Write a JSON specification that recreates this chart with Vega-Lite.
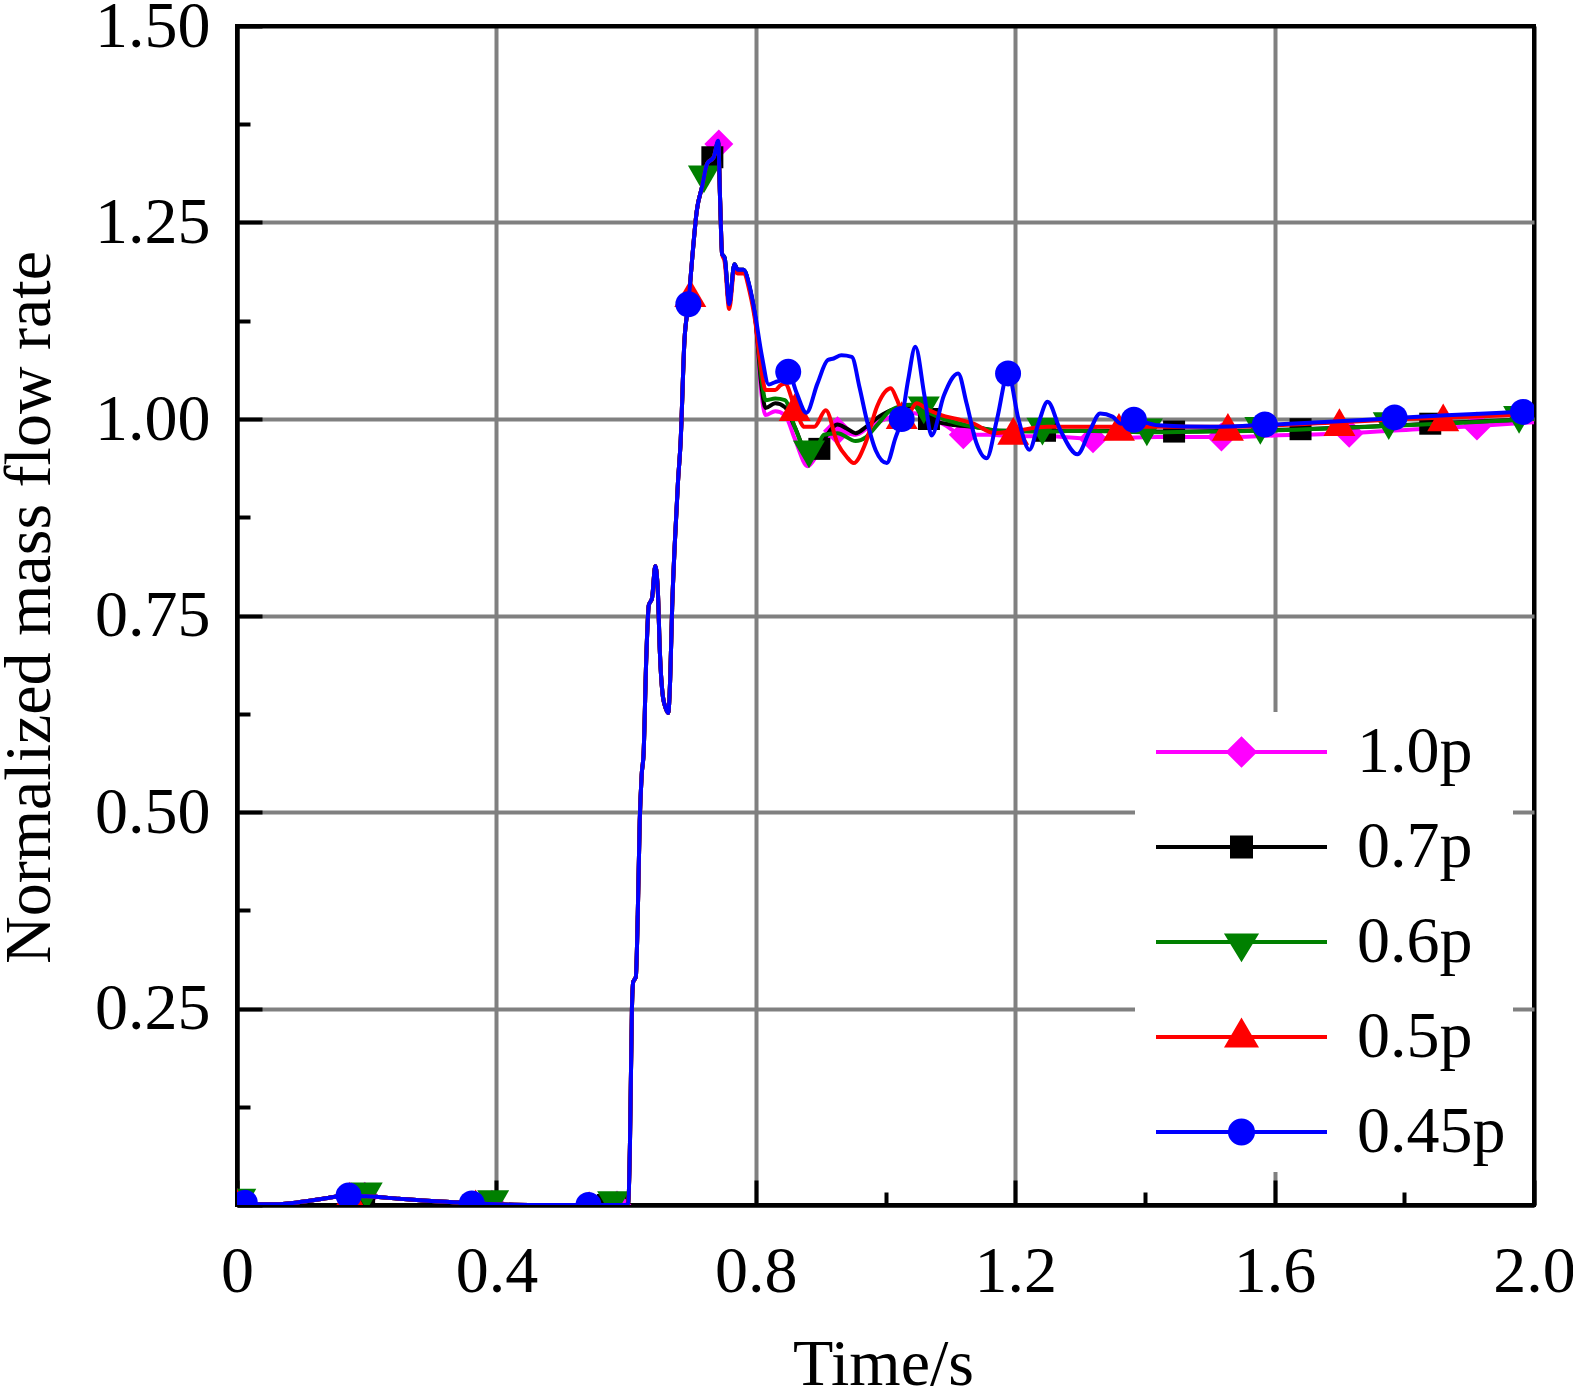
{
  "$schema": "https://vega.github.io/schema/vega-lite/v6.json",
  "width": 1297,
  "height": 1179,
  "autosize": {"type": "none"},
  "padding": {"left": 237, "top": 26, "right": 39, "bottom": 182},
  "background": "white",
  "config": {
    "view": {"stroke": "black", "strokeWidth": 4},
    "axis": {"labelFont": "Liberation Serif", "titleFont": "Liberation Serif", "labelFontSize": 66, "titleFontSize": 66, "titleFontWeight": "normal", "labelColor": "black", "titleColor": "black", "tickColor": "black", "domainColor": "black", "domainWidth": 4, "tickWidth": 4, "gridWidth": 4, "gridOpacity": 1, "labelFlush": false, "labelOverlap": false},
    "legend": {"labelFont": "Liberation Serif", "labelFontSize": 66, "labelColor": "black"}
  },
  "datasets": {
    "L": [
      {"s":"1.0p","t":0,"v":0.003},{"s":"1.0p","t":0.03,"v":0.001},{"s":"1.0p","t":0.06,"v":0.001},{"s":"1.0p","t":0.1,"v":0.004},{"s":"1.0p","t":0.14,"v":0.009},{"s":"1.0p","t":0.17,"v":0.012},{"s":"1.0p","t":0.2,"v":0.011},{"s":"1.0p","t":0.25,"v":0.008},{"s":"1.0p","t":0.3,"v":0.005},{"s":"1.0p","t":0.35,"v":0.003},{"s":"1.0p","t":0.4,"v":0.001},{"s":"1.0p","t":0.45,"v":0},{"s":"1.0p","t":0.6,"v":0},
      {"s":"1.0p","t":0.6034,"v":0.003},{"s":"1.0p","t":0.606,"v":0.08},{"s":"1.0p","t":0.609,"v":0.25},{"s":"1.0p","t":0.611,"v":0.284},{"s":"1.0p","t":0.615,"v":0.29},{"s":"1.0p","t":0.618,"v":0.37},{"s":"1.0p","t":0.621,"v":0.488},{"s":"1.0p","t":0.624,"v":0.547},{"s":"1.0p","t":0.627,"v":0.575},{"s":"1.0p","t":0.631,"v":0.693},{"s":"1.0p","t":0.635,"v":0.763},{"s":"1.0p","t":0.64,"v":0.772},{"s":"1.0p","t":0.645,"v":0.813},{"s":"1.0p","t":0.649,"v":0.78},{"s":"1.0p","t":0.652,"v":0.705},{"s":"1.0p","t":0.656,"v":0.652},{"s":"1.0p","t":0.661,"v":0.632},{"s":"1.0p","t":0.665,"v":0.626},{"s":"1.0p","t":0.668,"v":0.67},{"s":"1.0p","t":0.671,"v":0.76},{"s":"1.0p","t":0.675,"v":0.84},{"s":"1.0p","t":0.68,"v":0.92},{"s":"1.0p","t":0.684,"v":0.97},{"s":"1.0p","t":0.69,"v":1.1},{"s":"1.0p","t":0.696,"v":1.146},{"s":"1.0p","t":0.702,"v":1.205},{"s":"1.0p","t":0.709,"v":1.265},{"s":"1.0p","t":0.717,"v":1.295},{"s":"1.0p","t":0.725,"v":1.325},{"s":"1.0p","t":0.735,"v":1.335},{"s":"1.0p","t":0.742,"v":1.354},{"s":"1.0p","t":0.745,"v":1.278},{"s":"1.0p","t":0.748,"v":1.21},{"s":"1.0p","t":0.752,"v":1.205},{"s":"1.0p","t":0.759,"v":1.146},{"s":"1.0p","t":0.767,"v":1.197},{"s":"1.0p","t":0.772,"v":1.19},{"s":"1.0p","t":0.781,"v":1.19},{"s":"1.0p","t":0.791,"v":1.165},{"s":"1.0p","t":0.799,"v":1.13},
      {"s":"1.0p","t":0.809,"v":1.03},{"s":"1.0p","t":0.815,"v":1.005},{"s":"1.0p","t":0.83,"v":1.01},{"s":"1.0p","t":0.845,"v":1.005},{"s":"1.0p","t":0.86,"v":0.975},{"s":"1.0p","t":0.88,"v":0.94},{"s":"1.0p","t":0.895,"v":0.955},{"s":"1.0p","t":0.91,"v":0.975},{"s":"1.0p","t":0.926,"v":0.985},{"s":"1.0p","t":0.954,"v":0.98},{"s":"1.0p","t":0.975,"v":0.99},{"s":"1.0p","t":1.0,"v":1.0},{"s":"1.0p","t":1.03,"v":1.008},{"s":"1.0p","t":1.06,"v":1.005},{"s":"1.0p","t":1.09,"v":0.993},{"s":"1.0p","t":1.12,"v":0.98},{"s":"1.0p","t":1.16,"v":0.98},{"s":"1.0p","t":1.2,"v":0.978},{"s":"1.0p","t":1.25,"v":0.978},{"s":"1.0p","t":1.32,"v":0.975},{"s":"1.0p","t":1.42,"v":0.977},{"s":"1.0p","t":1.518,"v":0.977},{"s":"1.0p","t":1.6,"v":0.979},{"s":"1.0p","t":1.715,"v":0.982},{"s":"1.0p","t":1.82,"v":0.987},{"s":"1.0p","t":1.912,"v":0.991},{"s":"1.0p","t":2.0,"v":0.996},

      {"s":"0.7p","t":0,"v":0.003},{"s":"0.7p","t":0.03,"v":0.001},{"s":"0.7p","t":0.06,"v":0.001},{"s":"0.7p","t":0.1,"v":0.004},{"s":"0.7p","t":0.14,"v":0.009},{"s":"0.7p","t":0.17,"v":0.012},{"s":"0.7p","t":0.2,"v":0.011},{"s":"0.7p","t":0.25,"v":0.008},{"s":"0.7p","t":0.3,"v":0.005},{"s":"0.7p","t":0.35,"v":0.003},{"s":"0.7p","t":0.4,"v":0.001},{"s":"0.7p","t":0.45,"v":0},{"s":"0.7p","t":0.6,"v":0},
      {"s":"0.7p","t":0.6034,"v":0.003},{"s":"0.7p","t":0.606,"v":0.08},{"s":"0.7p","t":0.609,"v":0.25},{"s":"0.7p","t":0.611,"v":0.284},{"s":"0.7p","t":0.615,"v":0.29},{"s":"0.7p","t":0.618,"v":0.37},{"s":"0.7p","t":0.621,"v":0.488},{"s":"0.7p","t":0.624,"v":0.547},{"s":"0.7p","t":0.627,"v":0.575},{"s":"0.7p","t":0.631,"v":0.693},{"s":"0.7p","t":0.635,"v":0.763},{"s":"0.7p","t":0.64,"v":0.772},{"s":"0.7p","t":0.645,"v":0.813},{"s":"0.7p","t":0.649,"v":0.78},{"s":"0.7p","t":0.652,"v":0.705},{"s":"0.7p","t":0.656,"v":0.652},{"s":"0.7p","t":0.661,"v":0.632},{"s":"0.7p","t":0.665,"v":0.626},{"s":"0.7p","t":0.668,"v":0.67},{"s":"0.7p","t":0.671,"v":0.76},{"s":"0.7p","t":0.675,"v":0.84},{"s":"0.7p","t":0.68,"v":0.92},{"s":"0.7p","t":0.684,"v":0.97},{"s":"0.7p","t":0.69,"v":1.1},{"s":"0.7p","t":0.696,"v":1.146},{"s":"0.7p","t":0.702,"v":1.205},{"s":"0.7p","t":0.709,"v":1.265},{"s":"0.7p","t":0.717,"v":1.295},{"s":"0.7p","t":0.725,"v":1.325},{"s":"0.7p","t":0.735,"v":1.333},{"s":"0.7p","t":0.742,"v":1.352},{"s":"0.7p","t":0.745,"v":1.278},{"s":"0.7p","t":0.748,"v":1.21},{"s":"0.7p","t":0.752,"v":1.205},{"s":"0.7p","t":0.759,"v":1.146},{"s":"0.7p","t":0.767,"v":1.197},{"s":"0.7p","t":0.772,"v":1.19},{"s":"0.7p","t":0.781,"v":1.19},{"s":"0.7p","t":0.791,"v":1.165},{"s":"0.7p","t":0.799,"v":1.13},
      {"s":"0.7p","t":0.809,"v":1.04},{"s":"0.7p","t":0.815,"v":1.014},{"s":"0.7p","t":0.83,"v":1.02},{"s":"0.7p","t":0.845,"v":1.015},{"s":"0.7p","t":0.86,"v":0.99},{"s":"0.7p","t":0.88,"v":0.957},{"s":"0.7p","t":0.898,"v":0.962},{"s":"0.7p","t":0.91,"v":0.98},{"s":"0.7p","t":0.926,"v":0.993},{"s":"0.7p","t":0.94,"v":0.988},{"s":"0.7p","t":0.954,"v":0.982},{"s":"0.7p","t":0.97,"v":0.99},{"s":"0.7p","t":0.99,"v":1.003},{"s":"0.7p","t":1.008,"v":1.011},{"s":"0.7p","t":1.044,"v":1.016},{"s":"0.7p","t":1.067,"v":1.0},{"s":"0.7p","t":1.1,"v":0.993},{"s":"0.7p","t":1.136,"v":0.99},{"s":"0.7p","t":1.18,"v":0.985},{"s":"0.7p","t":1.25,"v":0.985},{"s":"0.7p","t":1.35,"v":0.985},{"s":"0.7p","t":1.445,"v":0.984},{"s":"0.7p","t":1.55,"v":0.985},{"s":"0.7p","t":1.64,"v":0.987},{"s":"0.7p","t":1.74,"v":0.99},{"s":"0.7p","t":1.84,"v":0.994},{"s":"0.7p","t":1.92,"v":0.997},{"s":"0.7p","t":2.0,"v":1.0},

      {"s":"0.6p","t":0,"v":0.003},{"s":"0.6p","t":0.03,"v":0.001},{"s":"0.6p","t":0.06,"v":0.001},{"s":"0.6p","t":0.1,"v":0.004},{"s":"0.6p","t":0.14,"v":0.009},{"s":"0.6p","t":0.17,"v":0.012},{"s":"0.6p","t":0.2,"v":0.011},{"s":"0.6p","t":0.25,"v":0.008},{"s":"0.6p","t":0.3,"v":0.005},{"s":"0.6p","t":0.35,"v":0.003},{"s":"0.6p","t":0.4,"v":0.001},{"s":"0.6p","t":0.45,"v":0},{"s":"0.6p","t":0.6,"v":0},
      {"s":"0.6p","t":0.6034,"v":0.003},{"s":"0.6p","t":0.606,"v":0.08},{"s":"0.6p","t":0.609,"v":0.25},{"s":"0.6p","t":0.611,"v":0.284},{"s":"0.6p","t":0.615,"v":0.29},{"s":"0.6p","t":0.618,"v":0.37},{"s":"0.6p","t":0.621,"v":0.488},{"s":"0.6p","t":0.624,"v":0.547},{"s":"0.6p","t":0.627,"v":0.575},{"s":"0.6p","t":0.631,"v":0.693},{"s":"0.6p","t":0.635,"v":0.763},{"s":"0.6p","t":0.64,"v":0.772},{"s":"0.6p","t":0.645,"v":0.813},{"s":"0.6p","t":0.649,"v":0.78},{"s":"0.6p","t":0.652,"v":0.705},{"s":"0.6p","t":0.656,"v":0.652},{"s":"0.6p","t":0.661,"v":0.632},{"s":"0.6p","t":0.665,"v":0.626},{"s":"0.6p","t":0.668,"v":0.67},{"s":"0.6p","t":0.671,"v":0.76},{"s":"0.6p","t":0.675,"v":0.84},{"s":"0.6p","t":0.68,"v":0.92},{"s":"0.6p","t":0.684,"v":0.97},{"s":"0.6p","t":0.69,"v":1.1},{"s":"0.6p","t":0.696,"v":1.146},{"s":"0.6p","t":0.702,"v":1.205},{"s":"0.6p","t":0.709,"v":1.265},{"s":"0.6p","t":0.717,"v":1.295},{"s":"0.6p","t":0.725,"v":1.325},{"s":"0.6p","t":0.735,"v":1.333},{"s":"0.6p","t":0.742,"v":1.352},{"s":"0.6p","t":0.745,"v":1.278},{"s":"0.6p","t":0.748,"v":1.21},{"s":"0.6p","t":0.752,"v":1.205},{"s":"0.6p","t":0.759,"v":1.146},{"s":"0.6p","t":0.767,"v":1.197},{"s":"0.6p","t":0.772,"v":1.19},{"s":"0.6p","t":0.781,"v":1.19},{"s":"0.6p","t":0.791,"v":1.165},{"s":"0.6p","t":0.799,"v":1.13},
      {"s":"0.6p","t":0.809,"v":1.05},{"s":"0.6p","t":0.815,"v":1.024},{"s":"0.6p","t":0.83,"v":1.026},{"s":"0.6p","t":0.845,"v":1.024},{"s":"0.6p","t":0.86,"v":0.99},{"s":"0.6p","t":0.882,"v":0.955},{"s":"0.6p","t":0.895,"v":0.965},{"s":"0.6p","t":0.905,"v":0.98},{"s":"0.6p","t":0.926,"v":0.982},{"s":"0.6p","t":0.954,"v":0.972},{"s":"0.6p","t":0.97,"v":0.977},{"s":"0.6p","t":0.99,"v":0.995},{"s":"0.6p","t":1.008,"v":1.011},{"s":"0.6p","t":1.038,"v":1.018},{"s":"0.6p","t":1.059,"v":1.011},{"s":"0.6p","t":1.09,"v":1.0},{"s":"0.6p","t":1.136,"v":0.99},{"s":"0.6p","t":1.18,"v":0.985},{"s":"0.6p","t":1.242,"v":0.984},{"s":"0.6p","t":1.3,"v":0.985},{"s":"0.6p","t":1.403,"v":0.983},{"s":"0.6p","t":1.5,"v":0.984},{"s":"0.6p","t":1.578,"v":0.985},{"s":"0.6p","t":1.68,"v":0.988},{"s":"0.6p","t":1.776,"v":0.991},{"s":"0.6p","t":1.88,"v":0.995},{"s":"0.6p","t":2.0,"v":1.0},

      {"s":"0.5p","t":0,"v":0.003},{"s":"0.5p","t":0.03,"v":0.001},{"s":"0.5p","t":0.06,"v":0.001},{"s":"0.5p","t":0.1,"v":0.004},{"s":"0.5p","t":0.14,"v":0.009},{"s":"0.5p","t":0.17,"v":0.012},{"s":"0.5p","t":0.2,"v":0.011},{"s":"0.5p","t":0.25,"v":0.008},{"s":"0.5p","t":0.3,"v":0.005},{"s":"0.5p","t":0.35,"v":0.003},{"s":"0.5p","t":0.4,"v":0.001},{"s":"0.5p","t":0.45,"v":0},{"s":"0.5p","t":0.6,"v":0},
      {"s":"0.5p","t":0.6034,"v":0.003},{"s":"0.5p","t":0.606,"v":0.08},{"s":"0.5p","t":0.609,"v":0.25},{"s":"0.5p","t":0.611,"v":0.284},{"s":"0.5p","t":0.615,"v":0.29},{"s":"0.5p","t":0.618,"v":0.37},{"s":"0.5p","t":0.621,"v":0.488},{"s":"0.5p","t":0.624,"v":0.547},{"s":"0.5p","t":0.627,"v":0.575},{"s":"0.5p","t":0.631,"v":0.693},{"s":"0.5p","t":0.635,"v":0.763},{"s":"0.5p","t":0.64,"v":0.772},{"s":"0.5p","t":0.645,"v":0.813},{"s":"0.5p","t":0.649,"v":0.78},{"s":"0.5p","t":0.652,"v":0.705},{"s":"0.5p","t":0.656,"v":0.652},{"s":"0.5p","t":0.661,"v":0.632},{"s":"0.5p","t":0.665,"v":0.626},{"s":"0.5p","t":0.668,"v":0.67},{"s":"0.5p","t":0.671,"v":0.76},{"s":"0.5p","t":0.675,"v":0.84},{"s":"0.5p","t":0.68,"v":0.92},{"s":"0.5p","t":0.684,"v":0.97},{"s":"0.5p","t":0.69,"v":1.1},{"s":"0.5p","t":0.696,"v":1.146},{"s":"0.5p","t":0.702,"v":1.205},{"s":"0.5p","t":0.709,"v":1.265},{"s":"0.5p","t":0.717,"v":1.295},{"s":"0.5p","t":0.725,"v":1.325},{"s":"0.5p","t":0.735,"v":1.333},{"s":"0.5p","t":0.742,"v":1.352},{"s":"0.5p","t":0.745,"v":1.278},{"s":"0.5p","t":0.748,"v":1.21},{"s":"0.5p","t":0.752,"v":1.2},{"s":"0.5p","t":0.759,"v":1.14},{"s":"0.5p","t":0.767,"v":1.19},{"s":"0.5p","t":0.772,"v":1.185},{"s":"0.5p","t":0.781,"v":1.185},{"s":"0.5p","t":0.791,"v":1.16},{"s":"0.5p","t":0.799,"v":1.125},
      {"s":"0.5p","t":0.809,"v":1.06},{"s":"0.5p","t":0.815,"v":1.037},{"s":"0.5p","t":0.83,"v":1.037},{"s":"0.5p","t":0.838,"v":1.043},{"s":"0.5p","t":0.845,"v":1.045},{"s":"0.5p","t":0.86,"v":1.015},{"s":"0.5p","t":0.875,"v":0.99},{"s":"0.5p","t":0.89,"v":0.99},{"s":"0.5p","t":0.908,"v":1.011},{"s":"0.5p","t":0.926,"v":0.969},{"s":"0.5p","t":0.94,"v":0.952},{"s":"0.5p","t":0.951,"v":0.944},{"s":"0.5p","t":0.969,"v":0.969},{"s":"0.5p","t":0.987,"v":1.016},{"s":"0.5p","t":1.0,"v":1.035},{"s":"0.5p","t":1.008,"v":1.039},{"s":"0.5p","t":1.018,"v":1.024},{"s":"0.5p","t":1.03,"v":1.0},{"s":"0.5p","t":1.048,"v":1.02},{"s":"0.5p","t":1.065,"v":1.012},{"s":"0.5p","t":1.086,"v":1.005},{"s":"0.5p","t":1.11,"v":1.0},{"s":"0.5p","t":1.136,"v":0.994},{"s":"0.5p","t":1.168,"v":0.982},{"s":"0.5p","t":1.2,"v":0.985},{"s":"0.5p","t":1.25,"v":0.99},{"s":"0.5p","t":1.3,"v":0.99},{"s":"0.5p","t":1.4,"v":0.99},{"s":"0.5p","t":1.5,"v":0.99},{"s":"0.5p","t":1.6,"v":0.992},{"s":"0.5p","t":1.7,"v":0.996},{"s":"0.5p","t":1.8,"v":1.0},{"s":"0.5p","t":1.9,"v":1.003},{"s":"0.5p","t":2.0,"v":1.006},

      {"s":"0.45p","t":0,"v":0.003},{"s":"0.45p","t":0.03,"v":0.001},{"s":"0.45p","t":0.06,"v":0.001},{"s":"0.45p","t":0.1,"v":0.004},{"s":"0.45p","t":0.14,"v":0.009},{"s":"0.45p","t":0.17,"v":0.012},{"s":"0.45p","t":0.2,"v":0.011},{"s":"0.45p","t":0.25,"v":0.008},{"s":"0.45p","t":0.3,"v":0.005},{"s":"0.45p","t":0.35,"v":0.003},{"s":"0.45p","t":0.4,"v":0.001},{"s":"0.45p","t":0.45,"v":0},{"s":"0.45p","t":0.6,"v":0},
      {"s":"0.45p","t":0.6034,"v":0.003},{"s":"0.45p","t":0.606,"v":0.08},{"s":"0.45p","t":0.609,"v":0.25},{"s":"0.45p","t":0.611,"v":0.284},{"s":"0.45p","t":0.615,"v":0.29},{"s":"0.45p","t":0.618,"v":0.37},{"s":"0.45p","t":0.621,"v":0.488},{"s":"0.45p","t":0.624,"v":0.547},{"s":"0.45p","t":0.627,"v":0.575},{"s":"0.45p","t":0.631,"v":0.693},{"s":"0.45p","t":0.635,"v":0.763},{"s":"0.45p","t":0.64,"v":0.772},{"s":"0.45p","t":0.645,"v":0.813},{"s":"0.45p","t":0.649,"v":0.78},{"s":"0.45p","t":0.652,"v":0.705},{"s":"0.45p","t":0.656,"v":0.652},{"s":"0.45p","t":0.661,"v":0.632},{"s":"0.45p","t":0.665,"v":0.626},{"s":"0.45p","t":0.668,"v":0.67},{"s":"0.45p","t":0.671,"v":0.76},{"s":"0.45p","t":0.675,"v":0.84},{"s":"0.45p","t":0.68,"v":0.92},{"s":"0.45p","t":0.684,"v":0.97},{"s":"0.45p","t":0.69,"v":1.1},{"s":"0.45p","t":0.696,"v":1.146},{"s":"0.45p","t":0.702,"v":1.205},{"s":"0.45p","t":0.709,"v":1.265},{"s":"0.45p","t":0.717,"v":1.295},{"s":"0.45p","t":0.725,"v":1.325},{"s":"0.45p","t":0.735,"v":1.333},{"s":"0.45p","t":0.742,"v":1.354},{"s":"0.45p","t":0.745,"v":1.278},{"s":"0.45p","t":0.748,"v":1.21},{"s":"0.45p","t":0.752,"v":1.205},{"s":"0.45p","t":0.759,"v":1.146},{"s":"0.45p","t":0.767,"v":1.197},{"s":"0.45p","t":0.772,"v":1.19},{"s":"0.45p","t":0.781,"v":1.19},{"s":"0.45p","t":0.791,"v":1.167},{"s":"0.45p","t":0.799,"v":1.133},
      {"s":"0.45p","t":0.809,"v":1.082},{"s":"0.45p","t":0.82,"v":1.044},{"s":"0.45p","t":0.83,"v":1.047},{"s":"0.45p","t":0.84,"v":1.05},{"s":"0.45p","t":0.85,"v":1.06},{"s":"0.45p","t":0.863,"v":1.033},{"s":"0.45p","t":0.878,"v":1.008},{"s":"0.45p","t":0.895,"v":1.045},{"s":"0.45p","t":0.911,"v":1.075},{"s":"0.45p","t":0.92,"v":1.077},{"s":"0.45p","t":0.932,"v":1.081},{"s":"0.45p","t":0.948,"v":1.079},{"s":"0.45p","t":0.96,"v":1.04},{"s":"0.45p","t":0.971,"v":0.999},{"s":"0.45p","t":0.985,"v":0.96},{"s":"0.45p","t":1.002,"v":0.944},{"s":"0.45p","t":1.015,"v":0.975},{"s":"0.45p","t":1.025,"v":1.0},{"s":"0.45p","t":1.035,"v":1.05},{"s":"0.45p","t":1.046,"v":1.092},{"s":"0.45p","t":1.06,"v":1.03},{"s":"0.45p","t":1.071,"v":0.979},{"s":"0.45p","t":1.09,"v":1.03},{"s":"0.45p","t":1.112,"v":1.058},{"s":"0.45p","t":1.125,"v":1.02},{"s":"0.45p","t":1.14,"v":0.97},{"s":"0.45p","t":1.156,"v":0.95},{"s":"0.45p","t":1.172,"v":1.0},{"s":"0.45p","t":1.189,"v":1.058},{"s":"0.45p","t":1.205,"v":1.0},{"s":"0.45p","t":1.222,"v":0.961},{"s":"0.45p","t":1.236,"v":0.995},{"s":"0.45p","t":1.25,"v":1.022},{"s":"0.45p","t":1.27,"v":0.985},{"s":"0.45p","t":1.296,"v":0.955},{"s":"0.45p","t":1.315,"v":0.985},{"s":"0.45p","t":1.331,"v":1.007},{"s":"0.45p","t":1.35,"v":1.003},{"s":"0.45p","t":1.363,"v":0.994},{"s":"0.45p","t":1.383,"v":0.999},{"s":"0.45p","t":1.42,"v":0.992},{"s":"0.45p","t":1.5,"v":0.99},{"s":"0.45p","t":1.6,"v":0.993},{"s":"0.45p","t":1.7,"v":0.997},{"s":"0.45p","t":1.8,"v":1.002},{"s":"0.45p","t":1.9,"v":1.006},{"s":"0.45p","t":2.0,"v":1.01}
    ],
    "M": [
      {"s":"1.0p","t":0.0,"v":0.003},{"s":"1.0p","t":0.197,"v":0.011},{"s":"1.0p","t":0.393,"v":0.001},{"s":"1.0p","t":0.586,"v":0.0},{"s":"1.0p","t":0.743,"v":1.35},{"s":"1.0p","t":0.926,"v":0.985},{"s":"1.0p","t":1.12,"v":0.98},{"s":"1.0p","t":1.32,"v":0.975},{"s":"1.0p","t":1.518,"v":0.977},{"s":"1.0p","t":1.715,"v":0.982},{"s":"1.0p","t":1.912,"v":0.991},
      {"s":"0.7p","t":0.0,"v":0.003},{"s":"0.7p","t":0.196,"v":0.011},{"s":"0.7p","t":0.389,"v":0.001},{"s":"0.7p","t":0.572,"v":0.0},{"s":"0.7p","t":0.733,"v":1.333},{"s":"0.7p","t":0.898,"v":0.962},{"s":"0.7p","t":1.067,"v":1.0},{"s":"0.7p","t":1.246,"v":0.985},{"s":"0.7p","t":1.445,"v":0.984},{"s":"0.7p","t":1.64,"v":0.987},{"s":"0.7p","t":1.84,"v":0.994},
      {"s":"0.6p","t":0.005,"v":0.003},{"s":"0.6p","t":0.2,"v":0.011},{"s":"0.6p","t":0.395,"v":0.001},{"s":"0.6p","t":0.58,"v":0.0},{"s":"0.6p","t":0.72,"v":1.305},{"s":"0.6p","t":0.882,"v":0.955},{"s":"0.6p","t":1.059,"v":1.011},{"s":"0.6p","t":1.242,"v":0.984},{"s":"0.6p","t":1.403,"v":0.983},{"s":"0.6p","t":1.578,"v":0.985},{"s":"0.6p","t":1.776,"v":0.991},{"s":"0.6p","t":1.977,"v":0.999},
      {"s":"0.5p","t":0.0,"v":0.003},{"s":"0.5p","t":0.174,"v":0.012},{"s":"0.5p","t":0.368,"v":0.002},{"s":"0.5p","t":0.543,"v":0.0},{"s":"0.5p","t":0.699,"v":1.16},{"s":"0.5p","t":0.86,"v":1.015},{"s":"0.5p","t":1.025,"v":1.005},{"s":"0.5p","t":1.197,"v":0.985},{"s":"0.5p","t":1.36,"v":0.99},{"s":"0.5p","t":1.528,"v":0.99},{"s":"0.5p","t":1.7,"v":0.996},{"s":"0.5p","t":1.86,"v":1.002},
      {"s":"0.45p","t":0.012,"v":0.003},{"s":"0.45p","t":0.172,"v":0.012},{"s":"0.45p","t":0.362,"v":0.002},{"s":"0.45p","t":0.542,"v":0.0},{"s":"0.45p","t":0.696,"v":1.146},{"s":"0.45p","t":0.85,"v":1.06},{"s":"0.45p","t":1.025,"v":1.0},{"s":"0.45p","t":1.189,"v":1.058},{"s":"0.45p","t":1.383,"v":0.999},{"s":"0.45p","t":1.585,"v":0.993},{"s":"0.45p","t":1.785,"v":1.002},{"s":"0.45p","t":1.983,"v":1.009}
    ]
  },
  "encoding": {
    "x": {"field": "t", "type": "quantitative", "scale": {"domain": [0, 2], "nice": false, "zero": false}},
    "y": {"field": "v", "type": "quantitative", "scale": {"domain": [0, 1.5], "nice": false, "zero": false}},
    "color": {
      "field": "s", "type": "nominal",
      "scale": {"domain": ["1.0p", "0.7p", "0.6p", "0.5p", "0.45p"], "range": ["#FF00FF", "#000000", "#008000", "#FF0000", "#0000FF"]},
      "legend": {
        "title": null, "orient": "none", "legendX": 898, "legendY": 686,
        "fillColor": "white", "padding": 7, "rowPadding": 29, "clipHeight": 66,
        "symbolSize": 29241, "symbolStrokeWidth": 4, "symbolOffset": 12, "labelOffset": 28,
        "labelBaseline": "middle",
        "encode": {
          "symbols": {
            "update": {
              "shape": {"signal": "datum.value === '1.0p' ? 'M-1,0L1,0M-0.152,0L0,-0.152L0.152,0L0,0.152Z' : datum.value === '0.7p' ? 'M-1,0L1,0M-0.111,-0.111L0.111,-0.111L0.111,0.111L-0.111,0.111Z' : datum.value === '0.6p' ? 'M-1,0L1,0M-0.164,-0.076L0.164,-0.076L0,0.193Z' : datum.value === '0.5p' ? 'M-1,0L1,0M0,-0.181L0.164,0.099L-0.164,0.099Z' : 'M-1,0L1,0M-0.135,0A0.135,0.135,0,1,0,0.135,0A0.135,0.135,0,1,0,-0.135,0Z'"},
              "fill": {"scale": "color", "field": "value"},
              "stroke": {"scale": "color", "field": "value"},
              "strokeWidth": {"value": 4},
              "size": {"value": 29241},
              "opacity": {"value": 1},
              "fillOpacity": {"value": 1}
            }
          }
        }
      }
    }
  },
  "layer": [
    {
      "layer": [
        {"data": {"name": "L"}, "transform": [{"filter": "datum.s === '1.0p'"}], "mark": {"type": "line", "strokeWidth": 4, "interpolate": "monotone", "clip": true}},
        {"data": {"name": "M"}, "transform": [{"filter": "datum.s === '1.0p'"}], "mark": {"type": "point", "shape": "diamond", "filled": true, "opacity": 1, "size": 841, "clip": true}},
        {"data": {"name": "L"}, "transform": [{"filter": "datum.s === '0.7p'"}], "mark": {"type": "line", "strokeWidth": 4, "interpolate": "monotone", "clip": true}},
        {"data": {"name": "M"}, "transform": [{"filter": "datum.s === '0.7p'"}], "mark": {"type": "point", "shape": "square", "filled": true, "opacity": 1, "size": 484, "clip": true}},
        {"data": {"name": "L"}, "transform": [{"filter": "datum.s === '0.6p'"}], "mark": {"type": "line", "strokeWidth": 4, "interpolate": "monotone", "clip": true}},
        {"data": {"name": "M"}, "transform": [{"filter": "datum.s === '0.6p'"}], "mark": {"type": "point", "shape": "triangle-down", "filled": true, "opacity": 1, "size": 1024, "clip": true}},
        {"data": {"name": "L"}, "transform": [{"filter": "datum.s === '0.5p'"}], "mark": {"type": "line", "strokeWidth": 4, "interpolate": "monotone", "clip": true}},
        {"data": {"name": "M"}, "transform": [{"filter": "datum.s === '0.5p'"}], "mark": {"type": "point", "shape": "triangle-up", "filled": true, "opacity": 1, "size": 1024, "clip": true}},
        {"data": {"name": "L"}, "transform": [{"filter": "datum.s === '0.45p'"}], "mark": {"type": "line", "strokeWidth": 4, "interpolate": "monotone", "clip": true}}
      ],
      "encoding": {
        "x": {"field": "t", "type": "quantitative", "title": "Time/s", "axis": {"orient": "bottom", "values": [0, 0.4, 0.8, 1.2, 1.6, 2.0], "labelExpr": "datum.value === 0 ? '0' : format(datum.value, '.1f')", "grid": true, "gridColor": {"condition": {"test": "datum.value >= 2 || datum.value <= 0", "value": "black"}, "value": "#808080"}, "tickSize": -25, "labelPadding": 59, "titleX": 646, "titleY": 179, "titleBaseline": "alphabetic", "titleAlign": "center"}},
        "y": {"field": "v", "type": "quantitative", "title": "Normalized mass flow rate", "axis": {"orient": "left", "values": [0, 0.25, 0.5, 0.75, 1.0, 1.25, 1.5], "labelExpr": "datum.value === 0 ? '' : format(datum.value, '.2f')", "grid": true, "gridColor": {"condition": {"test": "datum.value >= 1.5 || datum.value <= 0", "value": "black"}, "value": "#808080"}, "tickSize": -25, "labelPadding": 52, "labelBaseline": "middle", "titleX": -188, "titleY": 581, "titleBaseline": "alphabetic", "titleAngle": -90, "titleAlign": "center"}}
      }
    },
    {
      "data": {"name": "M"},
      "transform": [{"filter": "datum.s === '0.45p'"}],
      "mark": {"type": "point", "shape": "circle", "filled": true, "opacity": 1, "size": 676, "clip": true},
      "encoding": {
        "x": {"field": "t", "type": "quantitative", "axis": {"orient": "bottom", "values": [0.2, 0.6, 1.0, 1.4, 1.8], "labels": false, "domain": false, "grid": false, "tickSize": -13, "title": null}},
        "y": {"field": "v", "type": "quantitative", "axis": {"orient": "left", "values": [0.125, 0.375, 0.625, 0.875, 1.125, 1.375], "labels": false, "domain": false, "grid": false, "tickSize": -13, "title": null}}
      }
    }
  ],
  "resolve": {"axis": {"x": "independent", "y": "independent"}}
}
